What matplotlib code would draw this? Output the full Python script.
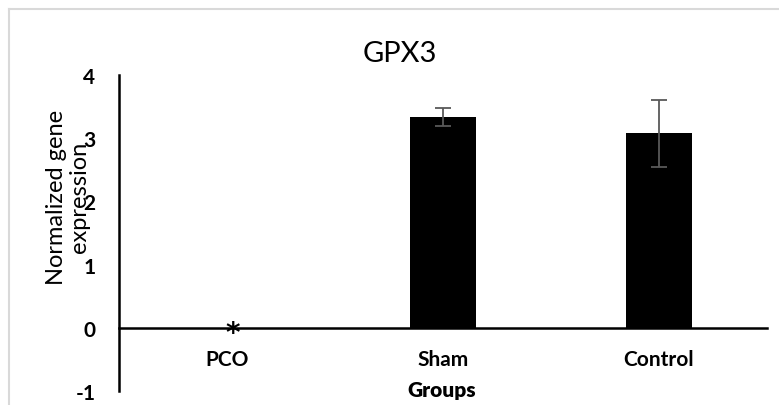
import matplotlib
matplotlib.use("Agg")
import matplotlib.pyplot as plt
from matplotlib.lines import Line2D

# GPX3 expression per group
groups = ["PCO", "Sham", "Control"]
values = [0.0, 3.34, 3.08]
errors = [0.0, 0.14, 0.53]
y_ticks = [-1, 0, 1, 2, 3, 4]

plt.rcParams['font.family'] = ['Lato', 'DejaVu Sans']

W, H = 779, 406
fig = plt.figure(figsize=(W / 100, H / 100), dpi=100)

# light grey chart-area border (top and left visible)
fig.add_artist(Line2D([9 / W, 1], [1 - 9.5 / H, 1 - 9.5 / H], color="#d9d9d9", lw=1.5, transform=fig.transFigure))
fig.add_artist(Line2D([9 / W, 9 / W], [0, 1 - 9.5 / H], color="#d9d9d9", lw=1.5, transform=fig.transFigure))

ax = fig.add_axes([119 / W, 1 - 392 / H, (767 - 119) / W, (392 - 76) / H])

ax.spines["top"].set_visible(False)
ax.spines["right"].set_visible(False)
ax.spines["bottom"].set_position(("data", 0))
ax.spines["bottom"].set_linewidth(1.8)
ax.spines["left"].set_linewidth(1.8)

x = list(range(len(groups)))
ax.bar(x, values, width=0.31, color="black", zorder=2)
ax.errorbar(x[1:], values[1:], yerr=errors[1:], fmt="none", ecolor="#595959",
            elinewidth=1.3, capsize=6, capthick=1.3, zorder=3)

# significance marker for PCO
ax.annotate("*", (x[0], 0), xytext=(4, -4), textcoords="offset points", family="DejaVu Sans",
            ha="center", va="center", fontsize=20, fontweight="bold", zorder=4)

ax.set_xlim(-0.5, 2.5)
ax.set_ylim(-1, 4)
ax.tick_params(axis="both", length=0)
ax.tick_params(axis="y", pad=17)
ax.tick_params(axis="x", pad=15)
ax.set_yticks(y_ticks)
ax.set_yticklabels([str(t) for t in y_ticks])
ax.set_xticks(x)
ax.set_xticklabels(groups)
plt.setp(ax.get_yticklabels() + ax.get_xticklabels(), fontsize=15, fontweight="bold")

fig.text(442 / W, 1 - 391 / H, "Groups", ha="center", va="center", fontsize=15, fontweight="heavy")
fig.text(68 / W, 1 - 197 / H, "Normalized gene\nexpression", ha="center", va="center",
         rotation=90, fontsize=17, linespacing=1.1)
fig.text(400 / W, 1 - 54 / H, "GPX3", ha="center", va="center", fontsize=21)

fig.savefig("out.png", dpi=100)
